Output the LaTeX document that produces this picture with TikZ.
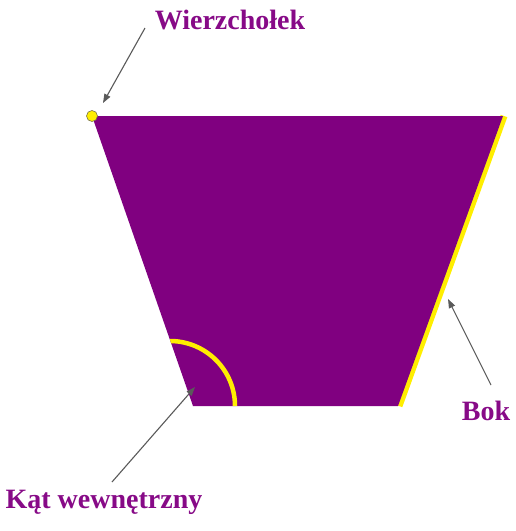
\documentclass[tikz,border=0pt]{standalone}
\usepackage{fontspec}
\setmainfont{Liberation Serif}
\usetikzlibrary{arrows.meta}
\definecolor{trapfill}{HTML}{800080}
\definecolor{labelcol}{HTML}{870A87}
\definecolor{markyellow}{HTML}{FFEE00}
\definecolor{arrowgray}{HTML}{5A5A5A}
\tikzset{
  lbl/.style={text=labelcol, font=\fontsize{28}{31}\selectfont\bfseries, inner sep=0pt, anchor=center},
  pointer/.style={draw=arrowgray, line width=1.1pt, -{Triangle[length=9pt,width=6.5pt]}},
}
\begin{document}
\begin{tikzpicture}[x=1pt,y=-1pt]
\useasboundingbox (0,0) rectangle (515,531);
\fill[white] (0,0) rectangle (515,531);
% vertices
\coordinate (TL) at (92,116);
\coordinate (TR) at (503,116);
\coordinate (BR) at (398,406);
\coordinate (BL) at (193,406);
% highlighted side
\draw[markyellow, line width=7pt, line cap=butt] ([xshift=1pt]TR) -- ([xshift=1pt]BR);
% trapezoid
\fill[trapfill] (TL) -- (TR) -- (BR) -- (BL) -- cycle;
% interior angle arc
\begin{scope}
\clip (TL) -- (TR) -- (BR) -- (BL) -- cycle;
\draw[markyellow, line width=4.5pt] plot[domain=0:90, samples=50] ({170+65*cos(\x)},{406-65*sin(\x)});
\end{scope}
% vertex dot
\node[circle, fill=markyellow, draw=black!60!yellow, line width=0.6pt, minimum size=11pt, inner sep=0pt] (dot) at (TL) {};
% labels
\node[lbl] (lw) at (230,20) {Wierzchołek};
\node[lbl] (lb) at (486,411) {Bok};
\node[lbl] (lk) at (104,502) {Kąt wewnętrzny};
% arrow end points
\coordinate (wt) at (145,28);
\coordinate (wh) at (103,103);
\coordinate (bt) at (491,385);
\coordinate (bh) at (448,299);
\coordinate (kt) at (112,482);
\coordinate (kh) at (195,387);
\draw[pointer] (wt) -- (wh);
\draw[pointer] (bt) -- (bh);
\draw[pointer] (kt) -- (kh);
\end{tikzpicture}
\end{document}
